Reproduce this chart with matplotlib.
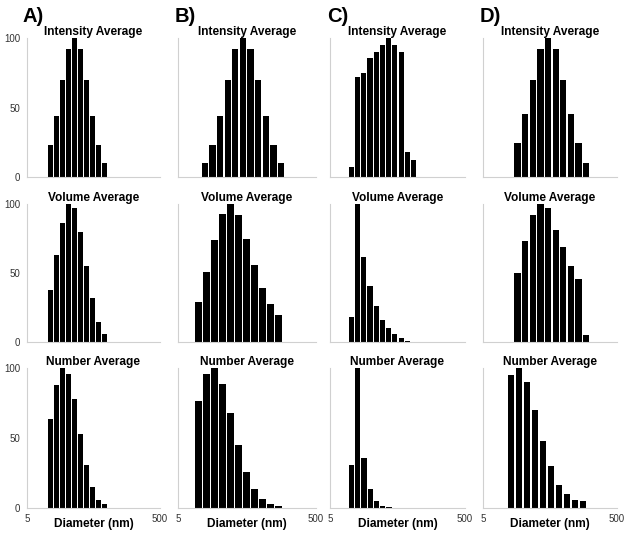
import numpy as np
import matplotlib.pyplot as plt

plt.rcParams['font.family'] = ['Liberation Sans', 'DejaVu Sans']

titles = ['Intensity Average', 'Volume Average', 'Number Average']
letters = ['A)', 'B)', 'C)', 'D)']

# relative frequency (%) per size bin, one list per row (intensity, volume, number)
sample_A = [[23, 44, 70, 92, 100, 92, 70, 44, 23, 10],
            [38, 63, 86, 100, 97, 80, 55, 32, 15, 6],
            [64, 88, 100, 96, 78, 53, 31, 15, 6, 3]]
sample_B = [[10, 23, 44, 70, 92, 100, 92, 70, 44, 23, 10],
            [29, 51, 74, 93, 100, 92, 75, 56, 39, 28, 20],
            [77, 96, 100, 89, 68, 45, 26, 14, 7, 3, 2]]
sample_C = [[7, 72, 75, 86, 90, 95, 100, 95, 90, 18, 12],
            [18, 100, 62, 41, 26, 16, 10, 6, 3, 1, 0.5],
            [31, 100, 36, 14, 5, 2, 1, 0.5, 0.3]]
sample_D = [[24, 45, 70, 92, 100, 92, 70, 45, 24, 10],
            [50, 73, 92, 100, 97, 81, 69, 55, 46, 5],
            [95, 100, 90, 70, 48, 30, 17, 10, 6, 5]]

# diameter range (nm) spanned by the bins of each panel
range_A = [(10.4, 82.6), (10.4, 82.6), (10.4, 82.6)]
range_B = [(11.0, 182.0), (8.8, 168.0), (8.8, 168.0)]
range_C = [(9.5, 98.0), (9.5, 98.0), (9.5, 65.2)]
range_D = [(14.7, 202.0), (14.7, 202.0), (11.7, 182.7)]

samples = [sample_A, sample_B, sample_C, sample_D]
ranges = [range_A, range_B, range_C, range_D]

W, H = 629, 536
fig = plt.figure(figsize=(W / 100, H / 100), dpi=100)

# axes extents in pixels
col_x = [(27, 160), (178, 316), (330, 465), (483, 617)]
row_y = [(38.3, 176.7), (204, 342.3), (368.3, 508.3)]
grey = '#d0d0d0'

for c in range(4):
    x0, x1 = col_x[c]
    for r in range(3):
        y0, y1 = row_y[r]
        ax = fig.add_axes([x0 / W, 1 - y1 / H, (x1 - x0) / W, (y1 - y0) / H])
        vals = samples[c][r]
        lo, hi = ranges[c][r]
        edges = np.geomspace(lo, hi, len(vals) + 1)
        ratio = edges[1] / edges[0]
        ax.bar(edges[:-1], vals, width=edges[:-1] * (ratio ** 0.82 - 1),
               align='edge', color='black', linewidth=0)
        ax.set_xscale('log')
        ax.set_xlim(5, 500)
        ax.set_ylim(0, 100)
        ax.set_title(titles[r], fontsize=8.6, fontweight='bold', pad=2.5)
        for s in ['top', 'right']:
            ax.spines[s].set_visible(False)
        for s in ['left', 'bottom']:
            ax.spines[s].set_color(grey)
            ax.spines[s].set_linewidth(0.8)
        ax.tick_params(length=0, labelsize=7, labelcolor='#333333')
        ax.xaxis.set_minor_locator(plt.NullLocator())
        if c == 0:
            ax.set_yticks([0, 50, 100])
            ax.tick_params(axis='y', pad=5)
        else:
            ax.set_yticks([])
        if r == 2:
            ax.set_xticks([5, 500])
            ax.set_xticklabels(['5', '500'])
            ax.tick_params(axis='x', pad=4)
            ax.set_xlabel('Diameter (nm)', fontsize=8.6, fontweight='bold', labelpad=-4)
        else:
            ax.set_xticks([])

letter_x = [22.7, 175, 327, 480]
for c in range(4):
    fig.text(letter_x[c] / W, 1 - 22 / H, letters[c], fontsize=14.5, fontweight='bold')

fig.savefig('out.png', dpi=100)
